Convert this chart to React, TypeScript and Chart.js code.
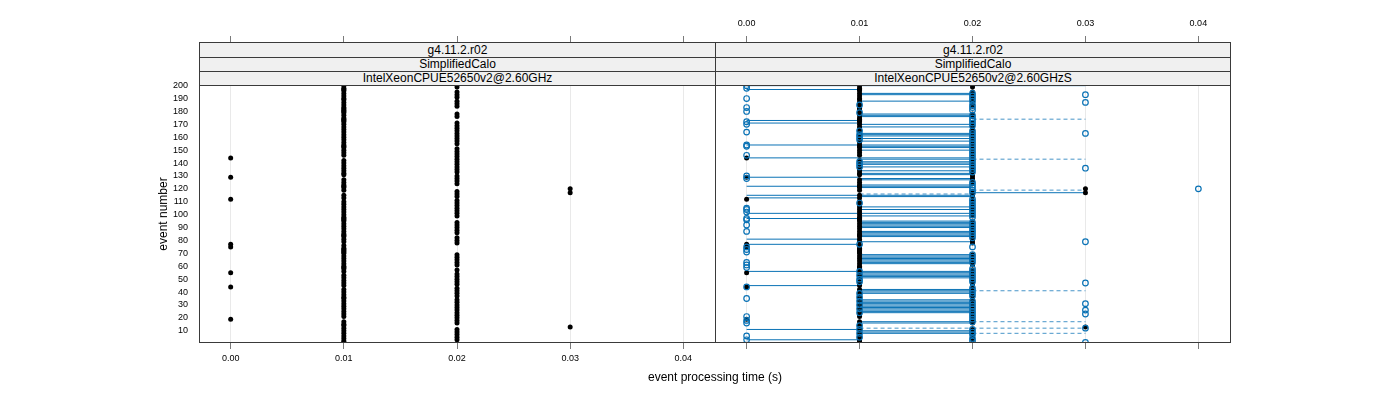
import React, { useEffect, useRef } from 'react';
import { Chart, registerables } from 'chart.js';

Chart.register(...registerables);

// ---------------- data ----------------
const X_TICKS = [0, 0.01, 0.02, 0.03, 0.04];
const X_TICK_LABELS = ['0.00', '0.01', '0.02', '0.03', '0.04'];
const Y_TICKS = [10, 20, 30, 40, 50, 60, 70, 80, 90, 100, 110, 120, 130, 140, 150, 160, 170, 180, 190, 200];
const X_TITLE = 'event processing time (s)';
const Y_TITLE = 'event number';
const STRIPS_LEFT = ['g4.11.2.r02', 'SimplifiedCalo', 'IntelXeonCPUE52650v2@2.60GHz'];
const STRIPS_RIGHT = ['g4.11.2.r02', 'SimplifiedCalo', 'IntelXeonCPUE52650v2@2.60GHzS'];

// reference processing time per event (event 1 .. 200)
const REF_TIME = [
  0.01, 0.01, 0.02, 0.01, 0.02, 0.01, 0.02, 0.01, 0.02, 0.01,
  0.02, 0.01, 0.03, 0.01, 0.01, 0.02, 0.01, 0.02, 0.00, 0.02,
  0.01, 0.02, 0.01, 0.02, 0.01, 0.02, 0.01, 0.02, 0.01, 0.02,
  0.01, 0.02, 0.01, 0.02, 0.01, 0.01, 0.02, 0.01, 0.02, 0.01,
  0.02, 0.01, 0.02, 0.00, 0.01, 0.02, 0.01, 0.02, 0.01, 0.02,
  0.01, 0.02, 0.01, 0.02, 0.00, 0.01, 0.02, 0.01, 0.01, 0.01,
  0.02, 0.01, 0.02, 0.01, 0.02, 0.01, 0.02, 0.01, 0.02, 0.01,
  0.01, 0.01, 0.01, 0.01, 0.00, 0.01, 0.00, 0.02, 0.01, 0.02,
  0.01, 0.02, 0.01, 0.01, 0.01, 0.02, 0.01, 0.02, 0.01, 0.02,
  0.01, 0.02, 0.01, 0.02, 0.01, 0.01, 0.01, 0.01, 0.02, 0.01,
  0.02, 0.01, 0.02, 0.01, 0.02, 0.01, 0.02, 0.01, 0.02, 0.01,
  0.02, 0.00, 0.01, 0.02, 0.01, 0.02, 0.03, 0.02, 0.01, 0.03,
  0.01, 0.01, 0.01, 0.02, 0.01, 0.02, 0.01, 0.02, 0.00, 0.02,
  0.01, 0.01, 0.02, 0.01, 0.02, 0.01, 0.02, 0.01, 0.02, 0.01,
  0.02, 0.01, 0.02, 0.00, 0.02, 0.01, 0.02, 0.01, 0.02, 0.01,
  0.02, 0.01, 0.01, 0.01, 0.02, 0.01, 0.02, 0.01, 0.02, 0.01,
  0.02, 0.01, 0.02, 0.01, 0.02, 0.01, 0.02, 0.01, 0.02, 0.01,
  0.02, 0.01, 0.01, 0.01, 0.01, 0.02, 0.01, 0.02, 0.01, 0.01,
  0.01, 0.01, 0.01, 0.02, 0.01, 0.02, 0.01, 0.02, 0.01, 0.01,
  0.02, 0.01, 0.02, 0.01, 0.02, 0.01, 0.01, 0.01, 0.02, 0.01,
];

// new measurement (right panel, open circles): events observed at each time
const NEW_T000_EVENTS = [200, 198, 190, 183, 180, 172, 170, 164, 154, 153, 146, 130, 128, 105, 104, 102, 97, 96, 92, 87, 75, 73, 71, 63, 61, 59, 44, 35, 21, 18, 16, 6, 3];
const NEW_T001_EVENTS = [185, 179, 165, 162, 160, 158, 141, 139, 137, 109, 77, 56, 53, 50, 48, 39, 36, 33, 30, 27, 24, 14, 11, 8, 5];
const NEW_T002_EVENTS = [194, 192, 190, 188, 185, 183, 181, 177, 175, 173, 171, 169, 165, 163, 161, 159, 157, 155, 153, 151, 149, 147, 145, 143, 141, 139, 137, 135, 133, 125, 123, 121, 119, 117, 112, 110, 108, 106, 104, 102, 100, 98, 94, 92, 90, 88, 86, 84, 82, 75, 69, 67, 65, 63, 58, 56, 54, 52, 50, 48, 43, 41, 39, 37, 33, 31, 29, 27, 25, 23, 21, 19, 17, 11, 9, 7, 4, 2];
const NEW_T003_EVENTS = [193, 187, 163, 136, 79, 47, 31, 26, 23, 12, 1];
const NEW_T004_EVENTS = [120];

// connecting segments (right panel)
const SOLID_00_01_EVENTS = [197, 173, 171, 154, 144, 129, 122, 115, 113, 101, 97, 81, 77, 56, 45, 11, 3];
const SOLID_01_02_EVENTS = [194, 193, 188, 178, 177, 176, 170, 168, 163, 162, 161, 159, 157, 154, 153, 152, 150, 144, 143, 141, 140, 139, 137, 134, 132, 131, 128, 127, 123, 122, 121, 115, 114, 106, 104, 101, 99, 95, 94, 93, 92, 91, 90, 87, 86, 85, 84, 83, 79, 69, 68, 67, 66, 65, 64, 63, 62, 56, 55, 54, 53, 52, 51, 42, 41, 40, 39, 34, 33, 32, 31, 30, 29, 28, 27, 26, 25, 24, 17, 16, 10, 9, 8];
const SOLID_02_03_EVENTS = [117];
const SOLID_00_03_EVENTS = [200];
const DASHED_01_02_EVENTS = [116, 12];
const DASHED_02_03_EVENTS = [174, 143, 119, 41, 17, 12, 8];

// ---------------- layout / style ----------------
const FONT = '"Liberation Sans", Arial, Helvetica, sans-serif';
const W = 1400;
const H = 400;
const PANEL_TOP = 42;
const PLOT_TOP = 85;
const PLOT_BOTTOM = 343;
const LEFT_X0 = 199;
const MID_X = 715;
const RIGHT_X1 = 1230;
const X_MIN = -0.0028;
const X_MAX = 0.0428;
const Y_MIN = 0.5;
const Y_TOP = 200.5;
const Y_MAX = Y_TOP + ((PLOT_TOP - PANEL_TOP) * (Y_TOP - Y_MIN)) / (PLOT_BOTTOM - PLOT_TOP);
const BLUE = '#0a72b5';
const GRID = '#e9e9e9';
const TICK = '#7a7a7a';
const FRAME = '#3a3a3a';
const STRIP_BG = '#f0f0f0';
const STRIP_TOPS = [42, 57, 71, 85];

const LEFT_CANVAS_W = MID_X + 1;
const RIGHT_CANVAS_X = MID_X - 1;
const RIGHT_CANVAS_W = W - RIGHT_CANVAS_X;

const pts = (events: number[], t: number) => events.map((e) => ({ x: t, y: e }));
const segs = (events: number[], a: number, b: number) =>
  events.flatMap((e) => [
    { x: a, y: e },
    { x: b, y: e },
    { x: b, y: null as any },
  ]);

const framePlugin = {
  id: 'panelFrame',
  afterDatasetsDraw(chart: any) {
    const { ctx, chartArea: a } = chart;
    ctx.save();
    ctx.strokeStyle = FRAME;
    ctx.lineWidth = 1;
    ctx.strokeRect(a.left + 0.5, PANEL_TOP + 0.5, a.right - a.left, PLOT_BOTTOM - 1 - PANEL_TOP);
    ctx.restore();
  },
};

function xScale(position: 'top' | 'bottom', labels: boolean, gridOnArea: boolean) {
  return {
    type: 'linear',
    position,
    min: X_MIN,
    max: X_MAX,
    afterBuildTicks: (s: any) => {
      s.ticks = X_TICKS.map((v) => ({ value: v }));
    },
    afterFit: (s: any) => {
      s.height = position === 'top' ? PANEL_TOP : H - PLOT_BOTTOM;
      s.paddingLeft = 0;
      s.paddingRight = 0;
      s.paddingTop = 0;
      s.paddingBottom = 0;
    },
    border: { display: false },
    grid: {
      drawOnChartArea: gridOnArea,
      drawTicks: true,
      color: GRID,
      tickColor: TICK,
      tickLength: 6,
      lineWidth: 1,
    },
    ticks: {
      display: labels,
      autoSkip: false,
      maxRotation: 0,
      padding: position === 'top' ? 7 : 4,
      color: '#000',
      font: { family: FONT, size: 9 },
      callback: (_v: any, i: number) => X_TICK_LABELS[i],
    },
  };
}

function yScale(show: boolean) {
  return {
    type: 'linear',
    position: 'left',
    display: show,
    min: Y_MIN,
    max: Y_MAX,
    afterBuildTicks: (s: any) => {
      s.ticks = Y_TICKS.map((v) => ({ value: v }));
    },
    afterFit: (s: any) => {
      s.width = show ? LEFT_X0 : 0;
      s.paddingLeft = 0;
      s.paddingRight = 0;
      s.paddingTop = 0;
      s.paddingBottom = 0;
    },
    border: { display: false },
    grid: { drawOnChartArea: false, drawTicks: false },
    ticks: {
      autoSkip: false,
      padding: 11,
      color: '#000',
      font: { family: FONT, size: 9 },
      callback: (v: any) => String(v),
    },
  };
}

function baseOptions(side: 'left' | 'right') {
  return {
    responsive: false,
    animation: false,
    events: [],
    layout: {
      autoPadding: false,
      padding:
        side === 'left'
          ? { left: 0, right: LEFT_CANVAS_W - MID_X, top: 0, bottom: 0 }
          : { left: MID_X - RIGHT_CANVAS_X, right: W - RIGHT_X1, top: 0, bottom: 0 },
    },
    plugins: { legend: { display: false }, tooltip: { enabled: false } },
    scales: {
      x: xScale('bottom', side === 'left', true),
      xTop: xScale('top', side === 'right', false),
      y: yScale(side === 'left'),
    },
  };
}

const refPoints = REF_TIME.map((t, i) => ({ x: t, y: i + 1 }));

const refDataset = {
  data: refPoints,
  pointRadius: 2.5,
  pointStyle: 'circle',
  backgroundColor: '#000',
  borderWidth: 0,
  showLine: false,
  clip: 0,
};

function leftConfig(): any {
  return {
    type: 'scatter',
    data: { datasets: [refDataset] },
    options: baseOptions('left'),
    plugins: [framePlugin],
  };
}

function rightConfig(): any {
  const newPoints = [
    ...pts(NEW_T000_EVENTS, 0),
    ...pts(NEW_T001_EVENTS, 0.01),
    ...pts(NEW_T002_EVENTS, 0.02),
    ...pts(NEW_T003_EVENTS, 0.03),
    ...pts(NEW_T004_EVENTS, 0.04),
  ];
  const solid = [
    ...segs(SOLID_00_01_EVENTS, 0, 0.01),
    ...segs(SOLID_01_02_EVENTS, 0.01, 0.02),
    ...segs(SOLID_02_03_EVENTS, 0.02, 0.03),
    ...segs(SOLID_00_03_EVENTS, 0, 0.03),
  ];
  const dashed = [...segs(DASHED_01_02_EVENTS, 0.01, 0.02), ...segs(DASHED_02_03_EVENTS, 0.02, 0.03)];
  return {
    type: 'scatter',
    data: {
      datasets: [
        {
          data: newPoints,
          pointRadius: 2.8,
          pointStyle: 'circle',
          backgroundColor: 'rgba(0,0,0,0)',
          borderColor: BLUE,
          borderWidth: 1.2,
          showLine: false,
          clip: 0,
        },
        { ...refDataset },
        {
          data: solid,
          showLine: true,
          spanGaps: false,
          pointRadius: 0,
          borderColor: BLUE,
          borderWidth: 1,
          clip: 0,
        },
        {
          data: dashed,
          showLine: true,
          spanGaps: false,
          pointRadius: 0,
          borderColor: 'rgba(10,114,181,0.75)',
          borderWidth: 1,
          borderDash: [4, 3],
          clip: 0,
        },
      ],
    },
    options: baseOptions('right'),
    plugins: [framePlugin],
  };
}

function Strips({ left, width, labels }: { left: number; width: number; labels: string[] }) {
  return (
    <>
      {labels.map((txt, i) => {
        const top = STRIP_TOPS[i];
        const h = STRIP_TOPS[i + 1] - top + 1;
        return (
          <div
            key={i}
            style={{
              position: 'absolute',
              left,
              top,
              width,
              height: h,
              boxSizing: 'border-box',
              border: `1px solid ${FRAME}`,
              background: STRIP_BG,
              fontFamily: FONT,
              fontSize: 12,
              lineHeight: `${h - 2}px`,
              textAlign: 'center',
              color: '#000',
              whiteSpace: 'nowrap',
              overflow: 'hidden',
            }}
          >
            {txt}
          </div>
        );
      })}
    </>
  );
}

export default function App() {
  const leftRef = useRef<HTMLCanvasElement>(null);
  const rightRef = useRef<HTMLCanvasElement>(null);

  useEffect(() => {
    const c1 = new Chart(leftRef.current as HTMLCanvasElement, leftConfig());
    const c2 = new Chart(rightRef.current as HTMLCanvasElement, rightConfig());
    return () => {
      c1.destroy();
      c2.destroy();
    };
  }, []);

  return (
    <div
      style={{
        position: 'absolute',
        left: 0,
        top: 0,
        width: W,
        height: H,
        background: '#fff',
        overflow: 'hidden',
        fontFamily: FONT,
      }}
    >
      <canvas ref={leftRef} width={LEFT_CANVAS_W} height={H} style={{ position: 'absolute', left: 0, top: 0 }} />
      <canvas
        ref={rightRef}
        width={RIGHT_CANVAS_W}
        height={H}
        style={{ position: 'absolute', left: RIGHT_CANVAS_X, top: 0 }}
      />
      <Strips left={LEFT_X0} width={MID_X - LEFT_X0 + 1} labels={STRIPS_LEFT} />
      <Strips left={MID_X} width={RIGHT_X1 - MID_X + 1} labels={STRIPS_RIGHT} />
      <div
        style={{
          position: 'absolute',
          left: MID_X - 200,
          top: 370,
          width: 400,
          textAlign: 'center',
          fontFamily: FONT,
          fontSize: 12,
          lineHeight: '14px',
          color: '#000',
        }}
      >
        {X_TITLE}
      </div>
      <div
        style={{
          position: 'absolute',
          left: 163 - 100,
          top: (PLOT_TOP + PLOT_BOTTOM) / 2 - 7,
          width: 200,
          height: 14,
          textAlign: 'center',
          fontFamily: FONT,
          fontSize: 12,
          lineHeight: '14px',
          color: '#000',
          transform: 'rotate(-90deg)',
          transformOrigin: '50% 50%',
        }}
      >
        {Y_TITLE}
      </div>
    </div>
  );
}
